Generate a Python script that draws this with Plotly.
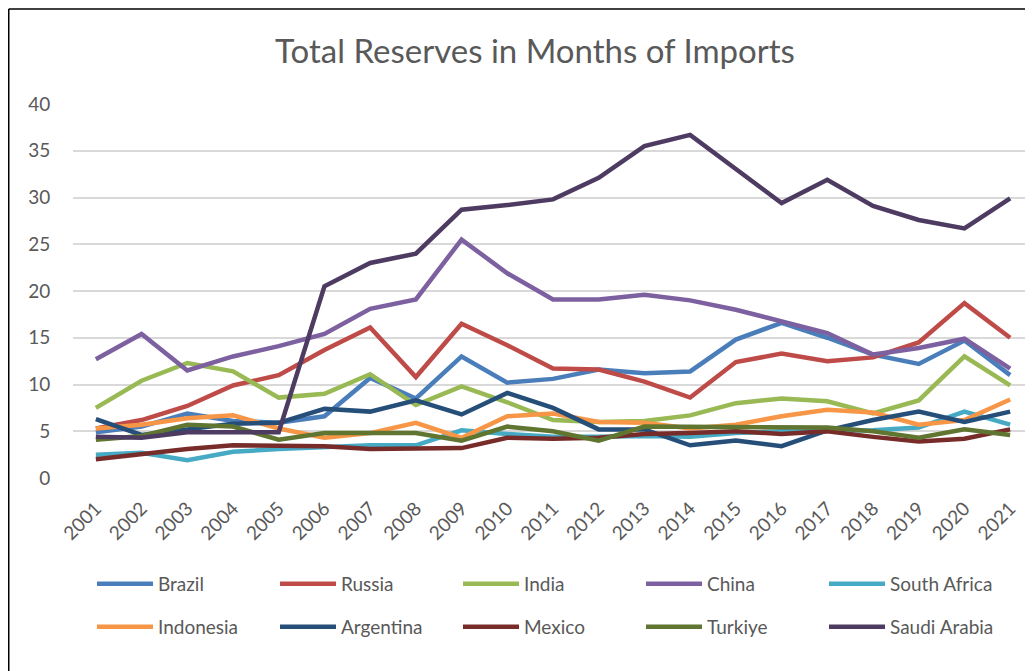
import plotly.graph_objects as go

years = [str(y) for y in range(2001, 2022)]

brazil = [4.9, 5.5, 6.9, 6.1, 5.9, 6.6, 10.7, 8.5, 13.0, 10.2, 10.6, 11.6, 11.2, 11.4, 14.8, 16.6, 15.0, 13.2, 12.2, 14.7, 11.0]
russia = [5.3, 6.2, 7.7, 9.9, 11.0, 13.7, 16.1, 10.8, 16.5, 14.2, 11.7, 11.6, 10.3, 8.6, 12.4, 13.3, 12.5, 12.9, 14.5, 18.7, 15.0]
india = [7.5, 10.4, 12.3, 11.4, 8.6, 9.0, 11.1, 7.8, 9.8, 8.1, 6.2, 6.0, 6.1, 6.7, 8.0, 8.5, 8.2, 6.9, 8.3, 13.0, 9.9]
china = [12.7, 15.4, 11.5, 13.0, 14.1, 15.4, 18.1, 19.1, 25.5, 21.9, 19.1, 19.1, 19.6, 19.0, 18.0, 16.8, 15.5, 13.2, 13.9, 14.9, 11.7]
south_africa = [2.5, 2.7, 1.9, 2.8, 3.1, 3.3, 3.5, 3.5, 5.1, 4.7, 4.4, 4.4, 4.5, 4.4, 4.8, 5.0, 5.1, 5.1, 5.4, 7.1, 5.7]
indonesia = [5.3, 5.7, 6.4, 6.7, 5.3, 4.3, 4.8, 5.9, 4.3, 6.6, 6.9, 6.0, 5.9, 5.3, 5.7, 6.6, 7.3, 7.0, 5.7, 6.2, 8.4]
argentina = [6.3, 4.6, 5.2, 5.8, 5.9, 7.4, 7.1, 8.3, 6.8, 9.1, 7.5, 5.2, 5.2, 3.5, 4.0, 3.4, 5.1, 6.2, 7.1, 6.0, 7.1]
mexico = [2.0, 2.6, 3.1, 3.5, 3.4, 3.4, 3.1, 3.1, 3.2, 4.3, 4.2, 4.3, 4.7, 4.8, 5.0, 4.7, 5.0, 4.4, 3.9, 4.2, 5.2]
turkiye = [4.1, 4.5, 5.7, 5.5, 4.1, 4.8, 4.8, 4.8, 4.0, 5.5, 5.0, 4.0, 5.5, 5.5, 5.5, 5.5, 5.4, 5.0, 4.3, 5.2, 4.6]
saudi_arabia = [4.4, 4.3, 4.9, 4.9, 4.9, 20.5, 23.0, 24.0, 28.7, 29.2, 29.8, 32.1, 35.5, 36.7, 33.1, 29.4, 31.9, 29.1, 27.6, 26.7, 29.9]

series = [
    ("Brazil", brazil, "#4A7EBB", "legend"),
    ("Russia", russia, "#BE4B48", "legend"),
    ("India", india, "#98B954", "legend"),
    ("China", china, "#7D60A0", "legend"),
    ("South Africa", south_africa, "#46AAC5", "legend"),
    ("Indonesia", indonesia, "#F79646", "legend2"),
    ("Argentina", argentina, "#254E79", "legend2"),
    ("Mexico", mexico, "#772C2A", "legend2"),
    ("Turkiye", turkiye, "#5F7530", "legend2"),
    ("Saudi Arabia", saudi_arabia, "#4D3B62", "legend2"),
]

FONT = "Lato, 'Open Sans', sans-serif"
GRAY = "#595959"

# page body has an 8px margin; figure is sized so it ends at the window edge
OFF = 8
FW, FH = 1033 - OFF, 671 - OFF

fig = go.Figure()
for name, vals, color, lg in series:
    fig.add_trace(go.Scatter(
        x=years, y=vals, name=name, mode="lines",
        line=dict(color=color, width=4.5, shape="linear"),
        legend=lg,
    ))

L, T, W, H = 73 - OFF, 104 - OFF, 960, 374
def px_x(px):  # screen px -> paper
    return (px - OFF - L) / W
def px_y(py):
    return (T + H - (py - OFF)) / H

legend_common = dict(
    orientation="h", xanchor="left", yanchor="middle",
    font=dict(family=FONT, size=19, color=GRAY),
    entrywidth=112, entrywidthmode="pixels",
    bgcolor="rgba(0,0,0,0)", itemwidth=56,
    traceorder="normal",
)

fig.update_layout(
    width=FW, height=FH,
    margin=dict(l=L, r=FW - L - W, t=T, b=FH - T - H, pad=0),
    paper_bgcolor="white", plot_bgcolor="white",
    title=dict(text="Total Reserves in Months of Imports",
               font=dict(family=FONT, size=33, color=GRAY),
               x=(535 - OFF) / FW, xanchor="center", xref="container",
               y=1 - (51 - OFF) / FH, yanchor="middle", yref="container"),
    xaxis=dict(type="category", range=[-0.5, 20.5], showgrid=False, zeroline=False, showline=False,
               tickangle=-45, ticks="outside", ticklen=11, tickcolor="rgba(0,0,0,0)",
               tickfont=dict(family=FONT, size=19, color=GRAY)),
    yaxis=dict(range=[0, 40], dtick=5, showgrid=True, gridcolor="#D9D9D9", gridwidth=1.5,
               zeroline=False, showline=False,
               ticks="outside", ticklen=18, tickcolor="rgba(0,0,0,0)",
               tickfont=dict(family=FONT, size=19, color=GRAY)),
    legend=dict(x=px_x(92), y=px_y(584), **legend_common),
    legend2=dict(x=px_x(92), y=px_y(627), **legend_common),
    showlegend=True,
    shapes=[
        dict(type="line", xref="paper", yref="paper", x0=px_x(OFF + 0.75), x1=px_x(1045),
             y0=px_y(OFF + 1), y1=px_y(OFF + 1), line=dict(color="#000000", width=1.5)),
        dict(type="line", xref="paper", yref="paper", x0=px_x(OFF + 0.75), x1=px_x(OFF + 0.75),
             y0=px_y(OFF + 1), y1=px_y(690), line=dict(color="#000000", width=1.5)),
    ],
)

fig.write_html("out.html")
